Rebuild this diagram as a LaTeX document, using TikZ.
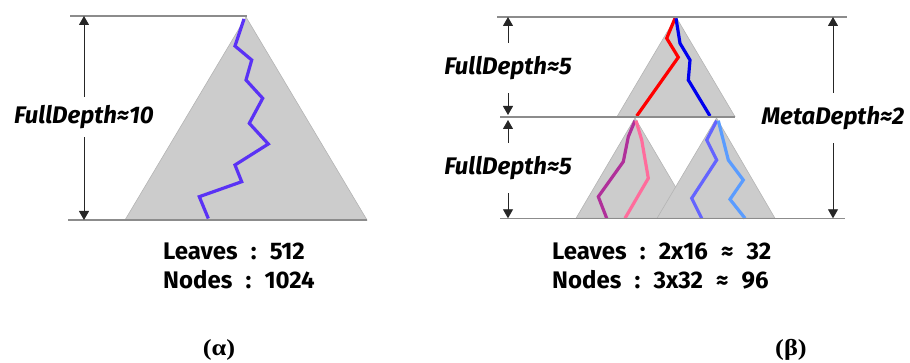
\documentclass[tikz,border=0pt]{standalone}
\usepackage{fontspec}
\usepackage{graphicx}
\setmainfont{Fira Sans}
\newfontfamily\capfont{Liberation Serif}
\usetikzlibrary{arrows.meta}
\definecolor{trigray}{HTML}{CCCCCC}
\definecolor{triedge}{HTML}{B4B4B4}
\definecolor{rulegray}{HTML}{8C8C8C}
\definecolor{pathpurple}{HTML}{5A32F5}
\definecolor{pathred}{HTML}{FF0000}
\definecolor{pathblue}{HTML}{0000EE}
\definecolor{pathmagenta}{HTML}{B0309A}
\definecolor{pathpink}{HTML}{FF6C9C}
\definecolor{pathviolet}{HTML}{6464FF}
\definecolor{pathsky}{HTML}{5A9CFF}
\tikzset{
  tree/.style={fill=trigray, draw=triedge, line width=0.6pt},
  walk/.style={line width=3.2pt, line join=miter, line cap=butt},
  level/.style={draw=rulegray, line width=1.3pt},
  dimline/.style={draw=black!85, line width=0.9pt, -{Triangle[length=9pt,width=10pt]}},
  dimlabel/.style={font=\fontsize{24}{26}\selectfont\bfseries\itshape, inner sep=0pt},
  counts/.style={font=\fontsize{24}{26}\selectfont\bfseries, anchor=base west, inner sep=0pt},
  figtag/.style={inner sep=0pt}
}
\newcommand{\sep}{\hspace{0.55em}}
\newcommand{\tagtext}[1]{\scalebox{1.15}[1]{\capfont\bfseries\fontsize{23}{25}\selectfont #1}}
\begin{document}
\begin{tikzpicture}[x=1pt, y=-1pt]
\useasboundingbox (0,0) rectangle (910,363);

% ---------- single deep tree ----------
\coordinate (Lapex) at (246,17);
\coordinate (Lbl) at (125,220);
\coordinate (Lbr) at (367,220);
\path[tree] (Lapex) -- (Lbl) -- (Lbr) -- cycle;
\draw[walk, pathpurple] (244,19) -- (235,46) -- (251.7,60) -- (246,80) -- (262.7,98.3)
  -- (249.3,123.3) -- (268.3,144) -- (235,165) -- (241.7,181.7) -- (199.3,196.7) -- (208.3,218.5);

\coordinate (LtopA) at (70,16);
\coordinate (LtopB) at (247,16);
\coordinate (LbotA) at (68,220);
\coordinate (LbotB) at (367,220);
\draw[level] (LtopA) -- (LtopB);
\draw[level] (LbotA) -- (LbotB);

\coordinate (Ltip) at (84,16);
\coordinate (Lbase) at (84,220);
\node[dimlabel, minimum height=40pt] (Ldepth) at (84,117) {FullDepth≈10};
\draw[dimline] (Ldepth) -- (Ltip);
\draw[dimline] (Ldepth) -- (Lbase);

\node[counts] (Lleaves) at (163,260) {Leaves\sep:\sep512};
\node[counts] (Lnodes) at (163,288) {Nodes\sep:\sep1024};
\node[figtag] (alpha) at (219,350) {\tagtext{(α)}};

% ---------- two-level meta tree ----------
\path[tree] (676,17) -- (617,116.7) -- (735,116.7) -- cycle;
\path[tree] (635,118) -- (576,218.3) -- (694,218.3) -- cycle;
\path[tree] (716.5,118) -- (657,218.3) -- (775,218.3) -- cycle;

\draw[walk, pathred] (675,18.3) -- (666.7,38.3) -- (678.3,57.3) -- (636.7,116);
\draw[walk, pathblue] (676,18.3) -- (680,43.3) -- (690,60) -- (688.3,80) -- (710,116);
\draw[walk, pathmagenta] (635,120.7) -- (628.3,136.7) -- (623.3,161.7) -- (598.3,196.7) -- (606.7,218.3);
\draw[walk, pathpink] (636,120.7) -- (641.7,140) -- (648.3,178.3) -- (625,218.3);
\draw[walk, pathviolet] (716.7,120.7) -- (706.7,140) -- (716.7,160) -- (691.7,198.3) -- (701.7,218.3);
\draw[walk, pathsky] (718.3,120.7) -- (728.3,160) -- (743.3,180) -- (730,199.3) -- (745,218.3);

\coordinate (RtopA) at (497,17);
\coordinate (RtopB) at (847,17);
\coordinate (RmidA) at (500,117);
\coordinate (RmidB) at (735,117);
\coordinate (RbotA) at (500,218.3);
\coordinate (RbotB) at (845,218.3);
\draw[level] (RtopA) -- (RtopB);
\draw[level] (RmidA) -- (RmidB);
\draw[level] (RbotA) -- (RbotB);

\coordinate (Utip) at (508,17);
\coordinate (Ubase) at (508,115);
\coordinate (Wtip) at (508,120);
\coordinate (Wbase) at (508,218.3);
\node[dimlabel, minimum height=50pt] (Udepth) at (508,68) {FullDepth≈5};
\node[dimlabel, minimum height=50pt] (Wdepth) at (508,168) {FullDepth≈5};
\draw[dimline] (Udepth) -- (Utip);
\draw[dimline] (Udepth) -- (Ubase);
\draw[dimline] (Wdepth) -- (Wtip);
\draw[dimline] (Wdepth) -- (Wbase);

\coordinate (Mtip) at (833,17);
\coordinate (Mbase) at (833,218.3);
\node[dimlabel, minimum height=50pt] (Mdepth) at (833,118) {MetaDepth≈2};
\draw[dimline] (Mdepth) -- (Mtip);
\draw[dimline] (Mdepth) -- (Mbase);

\node[counts] (Rleaves) at (552,260) {Leaves\sep:\sep2x16\sep≈\sep32};
\node[counts] (Rnodes) at (552,288) {Nodes\sep:\sep3x32\sep≈\sep96};
\node[figtag] (beta) at (791,350) {\tagtext{(β)}};
\end{tikzpicture}
\end{document}
